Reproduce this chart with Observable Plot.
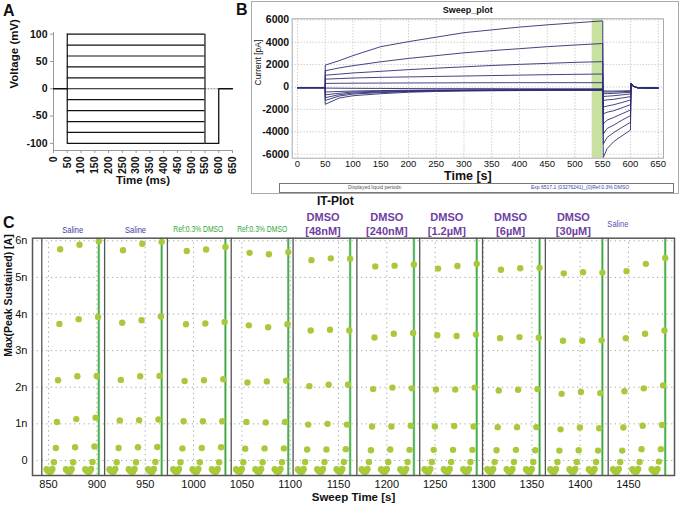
<!DOCTYPE html>
<html><head><meta charset="utf-8">
<script src="https://cdn.jsdelivr.net/npm/d3@7"></script>
<script src="https://cdn.jsdelivr.net/npm/@observablehq/plot@0.6"></script>
<style>
body{margin:0;background:#fff;}
#fig{position:relative;width:680px;height:508px;overflow:hidden;font-family:"Liberation Sans",Arial,sans-serif;background:#fff;}
.abs{position:absolute;}
.plab{position:absolute;font-weight:bold;font-size:16px;line-height:16px;color:#111;}
</style></head>
<body>
<div id="fig">
  <div id="boxB" class="abs" style="left:251px;top:1px;width:426px;height:191px;border:1px solid #aaa;"></div>
  <div id="pa" class="abs" style="left:0;top:0;"></div>
  <div id="pb" class="abs" style="left:250px;top:0;"></div>
  <div id="pc" class="abs" style="left:0;top:195px;"></div>
  <div class="abs" style="left:279px;top:183px;width:393px;height:8px;border:1px solid #777;background:#fff;"></div>
  <div class="abs" style="left:348px;top:184px;font-size:5px;color:#555;white-space:nowrap;">Displayed liquid periods:</div>
  <div class="abs" style="left:531px;top:184px;font-size:5px;color:#3344aa;white-space:nowrap;">Exp 6517.1 (03276241)_(0)Ref:0.3% DMSO</div>
  <div class="abs" style="left:317px;top:194px;font-size:12px;font-weight:bold;color:#111;white-space:nowrap;">IT-Plot</div>
  <div class="plab" style="left:3px;top:3px;">A</div>
  <div class="plab" style="left:236px;top:2px;">B</div>
  <div class="plab" style="left:3px;top:215px;">C</div>
</div>
<script>
// ---------------- Panel A: voltage protocol ----------------
const aLevels = [-100, -80, -60, -40, -20, 0, 20, 40, 60, 80, 100];
const aHoldV = 0, aTailV = -100;
const aTimes = {start: 0, stepOn: 50, stepOff: 550, tailOff: 600, end: 650};
const aXTicks = [0,50,100,150,200,250,300,350,400,450,500,550,600,650];
const aYTicks = [-100, -50, 0, 50, 100];
const aYDomain = [-113, 103];

// ---------------- Panel B: sweep plot ----------------
const bLevels = [100, 80, 60, 40, 20, 0, -20, -40, -60, -80, -100];
const bBaseT = [0, 50];
const bBaseI = -60;
const bStepT = [50, 75, 100, 150, 200, 250, 300, 350, 400, 450, 500, 550];
const bStepI = [
  [1950, 2350, 2800, 3600, 4050, 4450, 4850, 5100, 5350, 5550, 5730, 5900],
  [1450, 1700, 1900, 2250, 2550, 2800, 3050, 3250, 3420, 3600, 3750, 3880],
  [1050, 1150, 1250, 1400, 1550, 1680, 1800, 1920, 2020, 2110, 2200, 2260],
  [700, 750, 800, 860, 900, 940, 980, 1020, 1060, 1100, 1130, 1160],
  [320, 330, 340, 350, 360, 365, 375, 380, 385, 385, 385, 385],
  [-100, -110, -120, -130, -140, -150, -150, -150, -160, -160, -160, -160],
  [-450, -400, -360, -320, -290, -270, -260, -250, -240, -230, -230, -220],
  [-700, -560, -450, -380, -330, -300, -280, -270, -260, -250, -250, -240],
  [-950, -690, -540, -440, -370, -330, -310, -290, -280, -270, -260, -260],
  [-1200, -810, -630, -500, -410, -360, -330, -310, -300, -290, -280, -280],
  [-1550, -990, -780, -600, -470, -400, -360, -340, -320, -310, -300, -300]
];
const bTailT = [551, 558, 570, 585, 600];
const bTailI = [
  [-6300, -5500, -4870, -4350, -3850],
  [-5100, -4500, -4060, -3600, -3160],
  [-4200, -3700, -3400, -2950, -2560],
  [-3300, -2950, -2720, -2380, -2060],
  [-2400, -2250, -2120, -1850, -1580],
  [-1800, -1700, -1580, -1380, -1160],
  [-1200, -1150, -1100, -980, -860],
  [-850, -820, -780, -700, -620],
  [-600, -590, -570, -520, -470],
  [-450, -450, -450, -420, -380],
  [-350, -360, -360, -350, -330]
];
const bPostT = [601, 604, 612, 650];
const bPostI = [320, 100, -60, -100];
const bWindow = [{x1: 531, x2: 550}];
const bXTicks = [0,50,100,150,200,250,300,350,400,450,500,550,600,650];
const bYTicks = [-6000, -4000, -2000, 0, 2000, 4000, 6000];

// ---------------- Panel C: IT plot ----------------
const cLevels = [-100, -80, -60, -40, -20, 0, 20, 40, 60, 80, 100];
const cLevelDt = [-14, -12.5, -11, -9.5, -8, -6.5, -4.5, -3.3, -2.2, -0.8, 0];
const cRunT = [862, 882, 902, 927, 947, 967, 993, 1013, 1033, 1058, 1078, 1098,
  1122, 1142, 1162, 1188, 1208, 1228, 1253, 1273, 1293, 1318, 1338, 1358,
  1383, 1403, 1423, 1448, 1468, 1488];
const cSegStart = [843, 908, 973, 1039, 1103, 1169, 1234, 1299, 1364, 1429];
const cGreen = [902, 967, 1033, 1098, 1162, 1228, 1293, 1358, 1423, 1488];
const cVm100 = [-0.24,-0.24,-0.24,-0.24,-0.24,-0.24,-0.24,-0.24,-0.24,-0.24,-0.24,-0.24,-0.24,-0.24,-0.24,-0.24,-0.24,-0.24,-0.24,-0.24,-0.24,-0.24,-0.24,-0.24,-0.24,-0.24,-0.24,-0.24,-0.24,-0.24];
const cVm80 = [-0.29,-0.29,-0.29,-0.29,-0.29,-0.29,-0.29,-0.29,-0.29,-0.29,-0.29,-0.29,-0.29,-0.29,-0.29,-0.29,-0.29,-0.29,-0.29,-0.29,-0.29,-0.29,-0.29,-0.29,-0.29,-0.29,-0.29,-0.29,-0.29,-0.29];
const cVm60 = [-0.31,-0.31,-0.31,-0.31,-0.31,-0.31,-0.31,-0.31,-0.31,-0.31,-0.31,-0.31,-0.31,-0.31,-0.31,-0.31,-0.31,-0.31,-0.31,-0.31,-0.31,-0.31,-0.31,-0.31,-0.31,-0.31,-0.31,-0.31,-0.31,-0.31];
const cVm40 = [-0.30,-0.30,-0.30,-0.30,-0.30,-0.30,-0.30,-0.30,-0.30,-0.30,-0.30,-0.30,-0.30,-0.30,-0.30,-0.30,-0.30,-0.30,-0.30,-0.30,-0.30,-0.30,-0.30,-0.30,-0.30,-0.30,-0.30,-0.30,-0.30,-0.30];
const cVm20 = [-0.23,-0.23,-0.23,-0.23,-0.23,-0.23,-0.23,-0.23,-0.23,-0.23,-0.23,-0.23,-0.23,-0.23,-0.23,-0.23,-0.23,-0.23,-0.23,-0.23,-0.23,-0.23,-0.23,-0.23,-0.23,-0.23,-0.23,-0.23,-0.23,-0.23];
const cV0 = [-0.05,-0.05,-0.04,-0.05,-0.05,-0.04,-0.05,-0.05,-0.05,-0.05,-0.05,-0.05,-0.04,-0.04,-0.04,-0.04,-0.04,-0.04,-0.04,-0.04,-0.04,-0.04,-0.04,-0.04,-0.04,-0.04,-0.04,-0.04,-0.04,-0.03];
const cVp20 = [0.34,0.36,0.38, 0.34,0.36,0.37, 0.33,0.34,0.36, 0.32,0.33,0.33, 0.30,0.30,0.31, 0.28,0.30,0.29, 0.29,0.29,0.29, 0.28,0.29,0.28, 0.27,0.28,0.27, 0.27,0.31,0.31];
const cVp40 = [1.05,1.13,1.17, 1.09,1.10,1.12, 1.07,1.07,1.07, 1.05,1.04,1.05, 0.98,1.00,0.98, 0.93,0.93,0.95, 0.93,0.94,0.93, 0.91,0.91,0.91, 0.85,0.90,0.88, 0.90,0.95,0.97];
const cVp60 = [2.19,2.30,2.31, 2.20,2.30,2.31, 2.17,2.19,2.22, 2.13,2.16,2.18, 2.03,2.07,2.07, 1.95,1.99,1.97, 1.94,1.94,1.99, 1.91,1.93,1.95, 1.82,1.87,1.84, 1.89,1.97,2.05];
const cVp80 = [3.73,3.86,3.92, 3.76,3.83,3.93, 3.72,3.74,3.78, 3.69,3.64,3.72, 3.55,3.57,3.55, 3.36,3.46,3.48, 3.42,3.40,3.44, 3.34,3.37,3.35, 3.27,3.27,3.28, 3.34,3.46,3.55];
const cVp100 = [5.77,5.89,5.99, 5.74,5.92,5.97, 5.72,5.76,5.83, 5.67,5.63,5.69, 5.47,5.52,5.51, 5.30,5.32,5.35, 5.24,5.31,5.37, 5.21,5.25,5.26, 5.11,5.14,5.13, 5.17,5.37,5.53];
const cVals = [cVm100, cVm80, cVm60, cVm40, cVm20, cV0, cVp20, cVp40, cVp60, cVp80, cVp100];
const cLabelText = ["Saline", "Saline", "Ref:0.3% DMSO", "Ref:0.3% DMSO", "DMSO\n[48nM]", "DMSO\n[240nM]", "DMSO\n[1.2µM]", "DMSO\n[6µM]", "DMSO\n[30µM]", "Saline"];
const cLabelKind = ["saline", "saline", "ref", "ref", "dmso", "dmso", "dmso", "dmso", "dmso", "saline2"];
const cLabelT = [875, 940, 1005, 1071, 1134, 1200, 1262, 1328, 1393, 1439];
const cXTicks = [850,900,950,1000,1050,1100,1150,1200,1250,1300,1350,1400,1450];
const cYTicks = [0, 1, 2, 3, 4, 5, 6];

const FONT = '"Liberation Sans", Arial, sans-serif';
const plain = d => String(d);

// ---------- build panel A ----------
const aStepRows = aLevels.map(v => ({v, x1: aTimes.stepOn, x2: aTimes.stepOff}));
const aHoldRows = [
  {t: aTimes.start, v: aHoldV, s: "pre"}, {t: aTimes.stepOn, v: aHoldV, s: "pre"},
  {t: aTimes.stepOff, v: aTailV, s: "post"}, {t: aTimes.tailOff, v: aTailV, s: "post"},
  {t: aTimes.tailOff, v: aHoldV, s: "post"}, {t: aTimes.end, v: aHoldV, s: "post"}
];
const aDotRows = [{t: aTimes.stepOff, v: aHoldV}, {t: aTimes.tailOff, v: aHoldV}];

const plotA = Plot.plot({
  width: 245, height: 200,
  marginLeft: 53, marginRight: 13, marginTop: 32, marginBottom: 50,
  style: {fontFamily: FONT, background: "transparent", color: "#111"},
  x: {domain: [aTimes.start, aTimes.end]},
  y: {domain: aYDomain},
  marks: [
    Plot.ruleX([aTimes.start], {stroke: "#999", strokeWidth: 1}),
    Plot.ruleY([aYDomain[0]], {stroke: "#999", strokeWidth: 1}),
    Plot.line(aDotRows, {x: "t", y: "v", stroke: "#777", strokeWidth: 1, strokeDasharray: "1,2"}),
    Plot.ruleY(aStepRows, {y: "v", x1: "x1", x2: "x2", stroke: "#111", strokeWidth: 1.2}),
    Plot.ruleX([aTimes.stepOn, aTimes.stepOff], {y1: d3.min(aLevels), y2: d3.max(aLevels), stroke: "#111", strokeWidth: 1.2}),
    Plot.line(aHoldRows, {x: "t", y: "v", z: "s", stroke: "#111", strokeWidth: 1.3}),
    Plot.axisY(aYTicks, {tickSize: 3, tickPadding: 3, fontSize: 10.5, fontWeight: "bold", stroke: "#999", tickFormat: plain, label: null}),
    Plot.axisX(aXTicks, {tickSize: 3, tickPadding: 3, tickRotate: -90, fontSize: 10.5, fontWeight: "bold", stroke: "#999", tickFormat: plain, label: null}),
    Plot.text(["Voltage (mV)"], {frameAnchor: "left", dx: -39, dy: -3, rotate: -90, fontSize: 11.5, fontWeight: "bold"}),
    Plot.text(["Time (ms)"], {frameAnchor: "bottom", dy: 33, fontSize: 11.5, fontWeight: "bold"})
  ]
});
document.getElementById("pa").appendChild(plotA);

// ---------- build panel B ----------
const bRows = [];
bLevels.forEach((lv, k) => {
  bBaseT.forEach(t => bRows.push({lv, t, i: bBaseI}));
  bStepT.forEach((t, j) => bRows.push({lv, t, i: bStepI[k][j]}));
  bTailT.forEach((t, j) => bRows.push({lv, t, i: bTailI[k][j]}));
  bPostT.forEach((t, j) => bRows.push({lv, t, i: bPostI[j]}));
});

const plotB = Plot.plot({
  width: 430, height: 200,
  marginLeft: 41.7, marginRight: 17, marginTop: 18.3, marginBottom: 42.3,
  style: {fontFamily: FONT, background: "transparent", color: "#111"},
  x: {domain: [-9.5, 659.5]},
  y: {domain: [-6360, 6090]},
  marks: [
    Plot.gridX(bXTicks, {stroke: "#999", strokeOpacity: 1, strokeWidth: 0.7, strokeDasharray: "1,2"}),
    Plot.gridY(bYTicks, {stroke: "#999", strokeOpacity: 1, strokeWidth: 0.7, strokeDasharray: "1,2"}),
    Plot.rect(bWindow, {x1: "x1", x2: "x2", fill: "#c8e0a0"}),
    Plot.line(bRows, {x: "t", y: "i", z: "lv", stroke: "#2e2e74", strokeWidth: 0.9}),
    Plot.frame({stroke: "#aaa", strokeWidth: 1}),
    Plot.axisY(bYTicks, {tickSize: 0, tickPadding: 3, fontSize: 10.5, fontWeight: "bold", tickFormat: plain, label: null}),
    Plot.axisX(bXTicks, {tickSize: 0, tickPadding: 2, fontSize: 9.5, tickFormat: plain, label: null}),
    Plot.text(["Sweep_plot"], {frameAnchor: "top", dy: -12, dx: -10, fontSize: 9, fontWeight: "bold"}),
    Plot.text(["Time [s]"], {frameAnchor: "bottom", dy: 21.5, dx: -10, fontSize: 12.5, fontWeight: "bold"}),
    Plot.text(["Current [pA]"], {frameAnchor: "left", dx: -34, dy: -3, rotate: -90, fontSize: 8.5})
  ]
});
document.getElementById("pb").appendChild(plotB);

// ---------- build panel C ----------
const cRows = [];
cLevels.forEach((lv, i) => cRunT.forEach((t, j) => cRows.push({lv, t: t + cLevelDt[i], v: cVals[i][j]})));
const cLabels = cLabelText.map((text, i) => ({text, kind: cLabelKind[i], t: cLabelT[i]}));

const plotC = Plot.plot({
  width: 680, height: 313,
  marginLeft: 32, marginRight: 6, marginTop: 42.7, marginBottom: 33,
  style: {fontFamily: FONT, background: "transparent", color: "#111"},
  x: {domain: [833.4, 1497.6]},
  y: {domain: [-0.41, 6.07]},
  marks: [
    Plot.gridX(cXTicks, {stroke: "#999", strokeOpacity: 1, strokeWidth: 0.9, strokeDasharray: "1.2,3.5"}),
    Plot.gridY(cYTicks, {stroke: "#999", strokeOpacity: 1, strokeWidth: 0.9, strokeDasharray: "1.2,3.5"}),
    Plot.ruleX(cSegStart, {stroke: "#555", strokeWidth: 1.3}),
    Plot.ruleX(cGreen, {stroke: "#9ed39a", strokeWidth: 2.6}),
    Plot.ruleX(cGreen, {stroke: "#38a844", strokeWidth: 1.2}),
    Plot.dot(cRows, {x: "t", y: "v", r: 3.2, fill: "#a8ca3a", stroke: "none"}),
    Plot.frame({stroke: "#555", strokeWidth: 1.5}),
    Plot.axisY(cYTicks, {tickSize: 0, tickPadding: 5, fontSize: 11, tickFormat: d => d === 0 ? "0" : d + "n", label: null}),
    Plot.axisX(cXTicks, {tickSize: 0, tickPadding: 5, fontSize: 11, tickFormat: plain, label: null}),
    Plot.text(cLabels.filter(d => d.kind === "saline"), {x: "t", text: "text", frameAnchor: "top", dy: -12, fontSize: 9, fill: "#3c3ca8"}),
    Plot.text(cLabels.filter(d => d.kind === "saline2"), {x: "t", text: "text", frameAnchor: "top", dy: -17, fontSize: 8.5, fill: "#5a52b0"}),
    Plot.text(cLabels.filter(d => d.kind === "ref"), {x: "t", text: "text", frameAnchor: "top", dy: -12, fontSize: 8.5, fill: "#2ea43a"}),
    Plot.text(cLabels.filter(d => d.kind === "dmso"), {x: "t", text: "text", frameAnchor: "top", dy: -3, lineAnchor: "bottom", lineHeight: 1.27, fontSize: 11, fontWeight: "bold", fill: "#6f3fa3"}),
    Plot.text(["Max(Peak Sustained) [A]"], {frameAnchor: "left", dx: -24, rotate: -90, fontSize: 10.5, fontWeight: "bold"}),
    Plot.text(["Sweep Time [s]"], {frameAnchor: "bottom", dy: 25, fontSize: 11.5, fontWeight: "bold"})
  ]
});
document.getElementById("pc").appendChild(plotC);

// condensed look for the small segment labels (narrow font in the original)
d3.select(plotC).selectAll("text").each(function() {
  const s = this.textContent;
  if (s === "Saline") d3.select(this).attr("textLength", 21).attr("lengthAdjust", "spacingAndGlyphs");
  else if (s === "Ref:0.3% DMSO") d3.select(this).attr("textLength", 50).attr("lengthAdjust", "spacingAndGlyphs");
});
</script>
</body></html>
